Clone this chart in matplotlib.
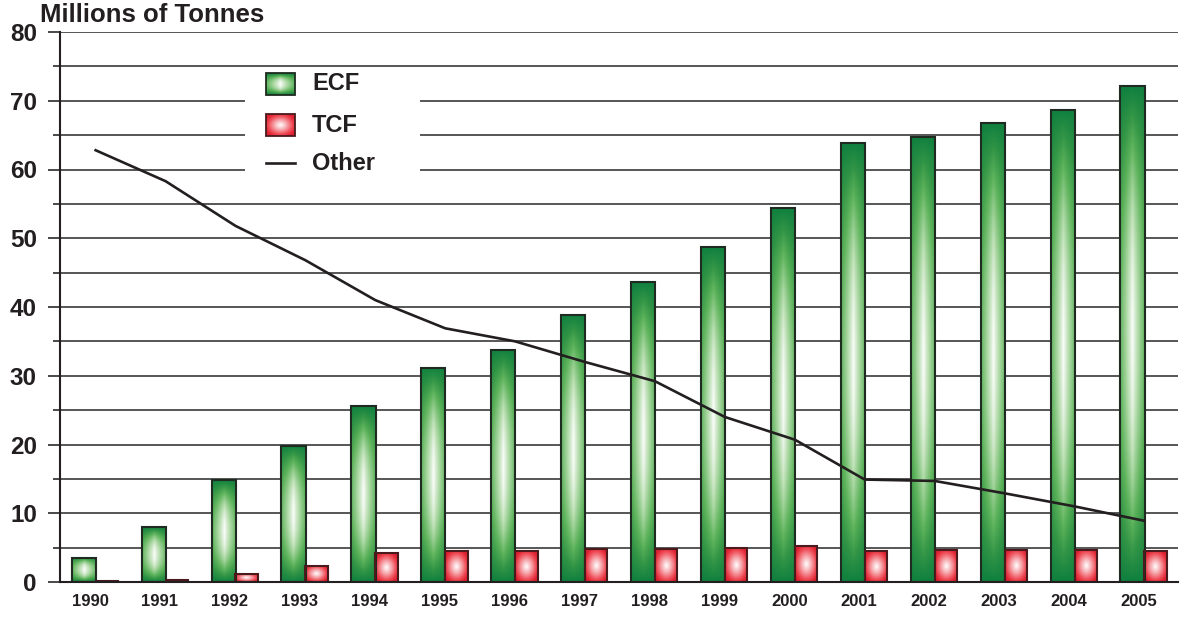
import numpy as np
import matplotlib.pyplot as plt
from matplotlib.colors import LinearSegmentedColormap
from matplotlib.patches import Rectangle

plt.rcParams['font.family'] = ['Liberation Sans', 'DejaVu Sans']
plt.rcParams['font.weight'] = 'bold'

years = ['1990', '1991', '1992', '1993', '1994', '1995', '1996', '1997',
         '1998', '1999', '2000', '2001', '2002', '2003', '2004', '2005']
ecf = [3.5, 8.0, 14.8, 19.8, 25.6, 31.2, 33.8, 38.9, 43.6, 48.7, 54.4, 63.8,
       64.8, 66.8, 68.7, 72.1]
tcf = [0.1, 0.3, 1.2, 2.4, 4.2, 4.5, 4.5, 4.8, 4.8, 4.9, 5.2, 4.5, 4.6, 4.7,
       4.7, 4.5]
other = [62.8, 58.3, 51.8, 46.8, 41.0, 36.9, 35.0, 32.0, 29.2, 24.0, 20.7,
         14.9, 14.7, 12.9, 11.0, 8.9]

ink = '#231f20'
green_cmap = LinearSegmentedColormap.from_list(
    'ecf', [(0, '#ffffff'), (0.3, '#b4dcac'), (0.6, '#5db35b'),
            (0.8, '#329546'), (1, '#10803f')])
red_cmap = LinearSegmentedColormap.from_list(
    'tcf', [(0, '#ffffff'), (0.35, '#f7b0b5'), (0.75, '#ef4a55'),
            (1, '#de2030')])


def green_gradient(nx=64, ny=256):
    # dark towards top and bottom, mid green at the sides, white in the middle
    U, V = np.meshgrid(np.abs(np.linspace(-1, 1, nx)),
                       np.abs(np.linspace(-1, 1, ny)))
    return 1 - (1 - V ** 2) * (1 - 0.58 * U ** 0.8)


def red_gradient(nx=64, ny=64):
    U, V = np.meshgrid(np.linspace(-1, 1, nx), np.linspace(-1, 1, ny))
    return np.clip(np.hypot(U, V) / 1.15, 0, 1)


def fill_gradient(ax, rect, grad, cmap):
    x0, y0 = rect.get_xy()
    w, h = rect.get_width(), rect.get_height()
    ax.imshow(grad, cmap=cmap, vmin=0, vmax=1, origin='lower',
              extent=(x0, x0 + w, y0, y0 + h), aspect='auto',
              interpolation='bilinear', zorder=2)


fig = plt.figure(figsize=(11.82, 6.18), dpi=100)
ax = fig.add_axes([60 / 1182, 36 / 618, 1118 / 1182, 550 / 618])

x = np.arange(len(years))
gw, rw = 0.345, 0.32
green_bars = ax.bar(x - 0.09, ecf, gw, facecolor='none', edgecolor='#1e2b20',
                    linewidth=1.5, zorder=2.5)
red_bars = ax.bar(x + 0.08 + rw / 2, tcf, rw, facecolor='none',
                  edgecolor='#4a1a1c', linewidth=1.5, zorder=2.5)
for r in green_bars.patches:
    fill_gradient(ax, r, green_gradient(), green_cmap)
for r in red_bars.patches:
    fill_gradient(ax, r, red_gradient(), red_cmap)

ax.plot(x + 0.08, other, color=ink, linewidth=1.9, zorder=3)

ax.set_yticks(range(0, 81, 10))
ax.set_yticks(range(5, 80, 10), minor=True)
ax.set_xticks(x)
ax.set_xticklabels(years)
ax.yaxis.grid(True, which='both', color='#3a3a3a', linewidth=1.2)
ax.set_axisbelow(True)

for s in ['top', 'right']:
    ax.spines[s].set_visible(False)
ax.spines['left'].set_color(ink)
ax.spines['left'].set_linewidth(1.5)
ax.spines['bottom'].set_color(ink)
ax.spines['bottom'].set_linewidth(1.5)
ax.tick_params(axis='y', which='major', length=8.6, width=1.3, color='#3a3a3a',
               labelsize=17.5, pad=8, labelcolor=ink)
ax.tick_params(axis='y', which='minor', length=5, width=1.3, color='#3a3a3a')
ax.tick_params(axis='x', length=0, pad=9, labelsize=12, labelcolor=ink)

fig.text(40 / 1182, 1 - 21.5 / 618, 'Millions of Tonnes', fontsize=18.5,
         color=ink, va='baseline', ha='left')


# legend drawn by hand so the swatches can carry the same gradient
def ax_frac(px, py):
    return (px - 60) / 1118, (582 - py) / 550


bx0, by0 = ax_frac(245, 186)
bx1, by1 = ax_frac(420, 68)
ax.add_patch(Rectangle((bx0, by0), bx1 - bx0, by1 - by0, transform=ax.transAxes,
                       facecolor='white', edgecolor='none', zorder=1.5))

for cy, grad, cmap, ec, label in [
        (84, green_gradient(32, 32), green_cmap, '#1e2b20', 'ECF'),
        (125, red_gradient(32, 32), red_cmap, '#4a1a1c', 'TCF')]:
    sx0, sy0 = ax_frac(266, cy + 11)
    sx1, sy1 = ax_frac(295, cy - 11)
    ax.imshow(grad, cmap=cmap, vmin=0, vmax=1, origin='lower',
              extent=(sx0, sx1, sy0, sy1), aspect='auto',
              interpolation='bilinear', transform=ax.transAxes, zorder=2)
    ax.add_patch(Rectangle((sx0, sy0), sx1 - sx0, sy1 - sy0,
                           transform=ax.transAxes, facecolor='none',
                           edgecolor=ec, linewidth=1.3, zorder=2.5))
    tx, ty = ax_frac(312, cy)
    ax.text(tx, ty, label, transform=ax.transAxes, fontsize=17, color=ink,
            va='center', ha='left', zorder=3)

lx0, ly = ax_frac(266, 163)
lx1, _ = ax_frac(295, 163)
ax.plot([lx0, lx1], [ly, ly], transform=ax.transAxes, color=ink,
        linewidth=1.9, zorder=3)
tx, ty = ax_frac(312, 163)
ax.text(tx, ty, 'Other', transform=ax.transAxes, fontsize=17, color=ink,
        va='center', ha='left', zorder=3)

ax.set_xlim(-0.43, 15.56)
ax.set_ylim(0, 80)

fig.savefig('out.png', dpi=100)
